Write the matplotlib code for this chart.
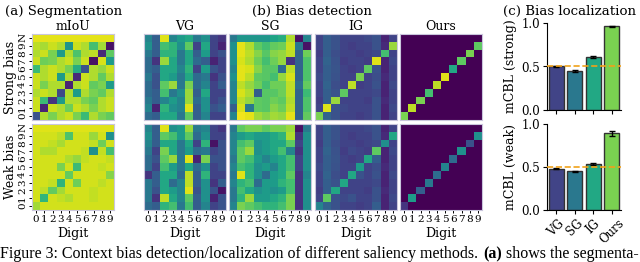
import matplotlib as mpl
mpl.use('Agg')
import matplotlib.pyplot as plt
import numpy as np

plt.rcParams['font.family'] = 'DejaVu Serif'

# labels
digits = ['0', '1', '2', '3', '4', '5', '6', '7', '8', '9']
rows = ['N', '9', '8', '7', '6', '5', '4', '3', '2', '1', '0']  # top -> bottom
methods = ['VG', 'SG', 'IG', 'Ours']

# heatmap values, rows listed top (N) to bottom (0), columns digit 0..9
miou_strong = [
    [0.96, 0.96, 0.96, 0.96, 0.96, 0.96, 0.96, 0.96, 0.96, 0.96],
    [0.90, 0.87, 0.92, 0.88, 0.52, 0.92, 0.88, 0.70, 0.86, 0.05],
    [0.88, 0.92, 0.80, 0.55, 0.88, 0.72, 0.88, 0.90, 0.12, 0.75],
    [0.92, 0.78, 0.80, 0.88, 0.92, 0.80, 0.92, 0.05, 0.94, 0.55],
    [0.68, 0.88, 0.92, 0.88, 0.80, 0.62, 0.25, 0.88, 0.84, 0.92],
    [0.92, 0.88, 0.92, 0.55, 0.88, 0.12, 0.92, 0.88, 0.76, 0.88],
    [0.92, 0.80, 0.88, 0.88, 0.10, 0.88, 0.92, 0.76, 0.80, 0.55],
    [0.88, 0.92, 0.88, 0.22, 0.88, 0.55, 0.88, 0.80, 0.76, 0.88],
    [0.92, 0.68, 0.15, 0.55, 0.88, 0.88, 0.80, 0.76, 0.88, 0.92],
    [0.92, 0.10, 0.92, 0.88, 0.78, 0.92, 0.88, 0.80, 0.88, 0.92],
    [0.25, 0.88, 0.80, 0.88, 0.92, 0.80, 0.68, 0.88, 0.80, 0.76],
]
miou_weak = [
    [0.95, 0.95, 0.95, 0.95, 0.95, 0.95, 0.95, 0.95, 0.95, 0.95],
    [0.93, 0.93, 0.93, 0.90, 0.72, 0.93, 0.93, 0.85, 0.93, 0.50],
    [0.93, 0.93, 0.91, 0.87, 0.93, 0.93, 0.93, 0.91, 0.78, 0.93],
    [0.93, 0.88, 0.88, 0.93, 0.93, 0.93, 0.91, 0.50, 0.91, 0.70],
    [0.93, 0.93, 0.93, 0.93, 0.88, 0.84, 0.91, 0.93, 0.93, 0.91],
    [0.93, 0.93, 0.93, 0.80, 0.93, 0.68, 0.93, 0.93, 0.91, 0.93],
    [0.93, 0.93, 0.93, 0.93, 0.76, 0.93, 0.93, 0.93, 0.93, 0.82],
    [0.93, 0.93, 0.91, 0.65, 0.93, 0.78, 0.93, 0.93, 0.90, 0.93],
    [0.93, 0.90, 0.76, 0.86, 0.93, 0.93, 0.93, 0.91, 0.93, 0.93],
    [0.93, 0.66, 0.93, 0.91, 0.88, 0.93, 0.93, 0.91, 0.93, 0.93],
    [0.86, 0.93, 0.93, 0.93, 0.93, 0.93, 0.93, 0.93, 0.93, 0.93],
]
vg_strong = [
    [0.45, 0.30, 0.95, 0.45, 0.55, 0.60, 0.40, 0.50, 0.20, 0.15],
    [0.50, 0.30, 0.70, 0.65, 0.50, 0.75, 0.20, 0.60, 0.20, 0.10],
    [0.40, 0.30, 0.65, 0.65, 0.40, 0.60, 0.30, 0.55, 0.20, 0.25],
    [0.35, 0.15, 0.85, 0.60, 0.40, 0.60, 0.35, 0.30, 0.10, 0.20],
    [0.35, 0.30, 0.60, 0.60, 0.45, 0.65, 0.20, 0.55, 0.25, 0.20],
    [0.40, 0.25, 0.60, 0.55, 0.40, 0.60, 0.35, 0.40, 0.15, 0.25],
    [0.35, 0.25, 0.75, 0.85, 0.40, 0.80, 0.35, 0.45, 0.20, 0.30],
    [0.35, 0.30, 0.70, 0.40, 0.50, 0.85, 0.30, 0.60, 0.20, 0.20],
    [0.40, 0.30, 0.45, 0.55, 0.45, 0.85, 0.35, 0.50, 0.20, 0.25],
    [0.45, 0.10, 0.65, 0.50, 0.45, 0.95, 0.30, 0.50, 0.25, 0.30],
    [0.35, 0.30, 0.60, 0.60, 0.40, 0.75, 0.30, 0.45, 0.20, 0.20],
]
vg_weak = [
    [0.45, 0.30, 0.95, 0.50, 0.55, 0.85, 0.40, 0.45, 0.20, 0.15],
    [0.50, 0.30, 0.75, 0.70, 0.55, 0.75, 0.35, 0.50, 0.20, 0.20],
    [0.45, 0.30, 0.60, 0.60, 0.40, 0.60, 0.20, 0.65, 0.05, 0.25],
    [0.40, 0.20, 0.80, 0.60, 0.40, 0.55, 0.35, 0.40, 0.20, 0.25],
    [0.35, 0.25, 0.75, 0.85, 0.40, 0.95, 0.10, 0.80, 0.25, 0.25],
    [0.35, 0.20, 0.70, 0.55, 0.40, 0.60, 0.35, 0.50, 0.20, 0.25],
    [0.15, 0.30, 0.60, 0.60, 0.35, 0.90, 0.30, 0.65, 0.20, 0.20],
    [0.40, 0.30, 0.60, 0.35, 0.45, 0.90, 0.30, 0.50, 0.15, 0.30],
    [0.40, 0.25, 0.60, 0.55, 0.45, 0.95, 0.25, 0.50, 0.25, 0.05],
    [0.40, 0.15, 0.90, 0.60, 0.45, 0.75, 0.30, 0.50, 0.10, 0.25],
    [0.35, 0.30, 0.65, 0.70, 0.40, 0.70, 0.30, 0.45, 0.20, 0.25],
]
sg_strong = [
    [0.40, 0.52, 0.52, 0.52, 0.52, 0.58, 0.62, 0.88, 0.05, 0.45],
    [0.50, 0.96, 0.88, 0.75, 0.70, 0.76, 0.78, 0.92, 0.40, 0.05],
    [0.50, 0.96, 0.90, 0.82, 0.74, 0.82, 0.84, 0.90, 0.32, 0.78],
    [0.50, 0.94, 0.88, 0.78, 0.70, 0.78, 0.84, 0.15, 0.32, 0.72],
    [0.45, 0.96, 0.94, 0.82, 0.74, 0.74, 0.35, 0.90, 0.32, 0.72],
    [0.50, 0.96, 0.90, 0.75, 0.74, 0.70, 0.84, 0.94, 0.32, 0.72],
    [0.45, 0.90, 0.84, 0.78, 0.70, 0.78, 0.78, 0.90, 0.36, 0.76],
    [0.45, 0.94, 0.88, 0.30, 0.74, 0.74, 0.78, 0.90, 0.32, 0.68],
    [0.45, 0.90, 0.84, 0.75, 0.74, 0.78, 0.75, 0.88, 0.32, 0.72],
    [0.30, 0.94, 0.40, 0.75, 0.74, 0.82, 0.78, 0.90, 0.32, 0.72],
    [0.45, 0.98, 0.96, 0.86, 0.82, 0.86, 0.84, 0.96, 0.32, 0.76],
]
sg_weak = [
    [0.40, 0.75, 0.80, 0.80, 0.75, 0.80, 0.80, 0.85, 0.05, 0.40],
    [0.45, 0.55, 0.60, 0.55, 0.55, 0.60, 0.65, 0.88, 0.15, 0.50],
    [0.45, 0.70, 0.75, 0.50, 0.55, 0.60, 0.60, 0.75, 0.20, 0.50],
    [0.45, 0.75, 0.85, 0.50, 0.55, 0.60, 0.70, 0.45, 0.15, 0.50],
    [0.40, 0.75, 0.70, 0.55, 0.45, 0.55, 0.60, 0.70, 0.20, 0.50],
    [0.45, 0.70, 0.65, 0.50, 0.55, 0.45, 0.60, 0.70, 0.20, 0.50],
    [0.40, 0.95, 0.65, 0.50, 0.35, 0.55, 0.60, 0.75, 0.15, 0.45],
    [0.45, 0.65, 0.70, 0.35, 0.55, 0.55, 0.65, 0.70, 0.15, 0.50],
    [0.40, 0.70, 0.60, 0.50, 0.55, 0.50, 0.55, 0.70, 0.15, 0.50],
    [0.40, 0.65, 0.85, 0.55, 0.55, 0.60, 0.65, 0.80, 0.15, 0.50],
    [0.45, 0.80, 0.75, 0.70, 0.65, 0.65, 0.70, 0.80, 0.15, 0.50],
]
ig_strong = [
    [0.20, 0.30, 0.25, 0.20, 0.20, 0.20, 0.22, 0.25, 0.10, 0.20],
    [0.20, 0.30, 0.25, 0.20, 0.18, 0.20, 0.20, 0.25, 0.12, 0.85],
    [0.18, 0.30, 0.24, 0.20, 0.20, 0.18, 0.20, 0.22, 0.70, 0.20],
    [0.20, 0.32, 0.25, 0.18, 0.20, 0.20, 0.18, 0.95, 0.10, 0.22],
    [0.20, 0.30, 0.26, 0.20, 0.18, 0.20, 0.75, 0.25, 0.10, 0.20],
    [0.22, 0.30, 0.25, 0.20, 0.20, 0.80, 0.20, 0.24, 0.12, 0.20],
    [0.20, 0.32, 0.24, 0.20, 0.90, 0.18, 0.20, 0.25, 0.10, 0.22],
    [0.20, 0.30, 0.25, 0.75, 0.20, 0.20, 0.20, 0.22, 0.10, 0.20],
    [0.18, 0.30, 0.85, 0.20, 0.20, 0.20, 0.18, 0.25, 0.12, 0.20],
    [0.20, 0.95, 0.25, 0.22, 0.20, 0.20, 0.20, 0.25, 0.10, 0.22],
    [0.80, 0.32, 0.25, 0.20, 0.20, 0.18, 0.20, 0.25, 0.10, 0.20],
]
ig_weak = [
    [0.20, 0.30, 0.25, 0.20, 0.20, 0.20, 0.22, 0.25, 0.10, 0.20],
    [0.20, 0.30, 0.25, 0.20, 0.18, 0.20, 0.20, 0.25, 0.12, 0.60],
    [0.18, 0.30, 0.24, 0.20, 0.20, 0.18, 0.20, 0.22, 0.50, 0.20],
    [0.20, 0.32, 0.25, 0.18, 0.22, 0.20, 0.18, 0.75, 0.10, 0.22],
    [0.20, 0.30, 0.26, 0.20, 0.18, 0.20, 0.60, 0.30, 0.10, 0.20],
    [0.22, 0.30, 0.25, 0.20, 0.20, 0.55, 0.20, 0.24, 0.12, 0.20],
    [0.20, 0.32, 0.24, 0.20, 0.60, 0.25, 0.20, 0.25, 0.10, 0.22],
    [0.20, 0.30, 0.25, 0.60, 0.20, 0.20, 0.20, 0.22, 0.10, 0.20],
    [0.18, 0.30, 0.60, 0.20, 0.20, 0.20, 0.18, 0.25, 0.12, 0.20],
    [0.20, 0.75, 0.25, 0.22, 0.25, 0.20, 0.20, 0.25, 0.10, 0.22],
    [0.45, 0.32, 0.25, 0.20, 0.20, 0.18, 0.20, 0.30, 0.10, 0.20],
]
ours_strong = [
    [0.00, 0.00, 0.00, 0.00, 0.00, 0.00, 0.00, 0.00, 0.00, 0.00],
    [0.00, 0.00, 0.00, 0.00, 0.00, 0.00, 0.00, 0.00, 0.00, 0.75],
    [0.00, 0.00, 0.00, 0.00, 0.00, 0.00, 0.00, 0.00, 0.80, 0.00],
    [0.00, 0.00, 0.00, 0.00, 0.00, 0.00, 0.00, 0.75, 0.00, 0.00],
    [0.00, 0.00, 0.00, 0.00, 0.00, 0.00, 0.60, 0.00, 0.00, 0.00],
    [0.00, 0.00, 0.00, 0.00, 0.00, 0.95, 0.00, 0.00, 0.00, 0.00],
    [0.00, 0.00, 0.00, 0.00, 0.90, 0.00, 0.00, 0.00, 0.00, 0.00],
    [0.00, 0.00, 0.00, 0.70, 0.00, 0.00, 0.00, 0.00, 0.00, 0.00],
    [0.00, 0.00, 0.80, 0.00, 0.00, 0.00, 0.00, 0.00, 0.00, 0.00],
    [0.00, 0.90, 0.00, 0.00, 0.00, 0.00, 0.00, 0.00, 0.00, 0.00],
    [0.80, 0.00, 0.00, 0.00, 0.00, 0.00, 0.00, 0.00, 0.00, 0.00],
]
ours_weak = [
    [0.00, 0.00, 0.00, 0.00, 0.00, 0.00, 0.00, 0.00, 0.00, 0.00],
    [0.00, 0.00, 0.00, 0.00, 0.00, 0.00, 0.00, 0.00, 0.00, 0.50],
    [0.00, 0.00, 0.00, 0.00, 0.00, 0.00, 0.00, 0.00, 0.25, 0.00],
    [0.00, 0.00, 0.00, 0.00, 0.00, 0.00, 0.00, 0.50, 0.00, 0.00],
    [0.00, 0.00, 0.00, 0.00, 0.00, 0.00, 0.35, 0.00, 0.00, 0.00],
    [0.00, 0.00, 0.00, 0.00, 0.00, 0.45, 0.00, 0.00, 0.00, 0.00],
    [0.00, 0.00, 0.00, 0.00, 0.35, 0.00, 0.00, 0.00, 0.00, 0.00],
    [0.00, 0.00, 0.00, 0.40, 0.00, 0.00, 0.00, 0.00, 0.00, 0.00],
    [0.00, 0.00, 0.30, 0.00, 0.00, 0.00, 0.00, 0.00, 0.00, 0.00],
    [0.00, 0.55, 0.00, 0.00, 0.00, 0.00, 0.00, 0.00, 0.00, 0.00],
    [0.15, 0.00, 0.00, 0.00, 0.00, 0.00, 0.00, 0.00, 0.00, 0.00],
]

# bias localization (mCBL)
cbl_strong = [0.50, 0.45, 0.61, 0.96]
cbl_strong_err = [0.01, 0.01, 0.01, 0.005]
cbl_weak = [0.48, 0.45, 0.54, 0.89]
cbl_weak_err = [0.008, 0.008, 0.012, 0.025]
bar_colors = ['#414487', '#2a788e', '#22a884', '#7ad151']

W, H = 640, 262
fig = plt.figure(figsize=(W / 100, H / 100), dpi=100)


def px_axes(x, y, w, h):
    return fig.add_axes([x / W, 1 - (y + h) / H, w / W, h / H])


def heat(ax, m, left=False, bottom=False):
    ax.imshow(np.array(m), cmap='viridis', vmin=0, vmax=1,
              aspect='auto', interpolation='nearest')
    ax.set_xticks(range(len(digits)))
    ax.set_yticks(range(len(rows)))
    ax.tick_params(length=2.5, width=0.7, pad=1, labelsize=7.5)
    if bottom:
        ax.set_xticklabels(digits)
        ax.set_xlabel('Digit', fontsize=9, labelpad=2)
    else:
        ax.tick_params(axis='x', bottom=False, labelbottom=False)
    if left:
        ax.set_yticklabels(rows, rotation=90, va='center')
    else:
        ax.tick_params(axis='y', left=False, labelleft=False)
    for s in ax.spines.values():
        s.set_color('#c9c6dc')
        s.set_linewidth(0.8)


xs = [32, 144, 229, 315, 400]
strong = [miou_strong, vg_strong, sg_strong, ig_strong, ours_strong]
weak = [miou_weak, vg_weak, sg_weak, ig_weak, ours_weak]
subtitles = ['mIoU'] + methods

for i, x in enumerate(xs):
    a1 = px_axes(x, 34, 82, 86)
    heat(a1, strong[i], left=(i == 0))
    a1.set_title(subtitles[i], fontsize=9, pad=3)
    a2 = px_axes(x, 124, 82, 86)
    heat(a2, weak[i], left=(i == 0), bottom=True)
    if i == 0:
        a1.set_ylabel('Strong bias', fontsize=9, labelpad=1)
        a2.set_ylabel('Weak bias', fontsize=9, labelpad=1)


def bars(ax, vals, errs, label, show_x):
    xpos = np.arange(len(methods))
    ax.bar(xpos, vals, width=0.82, color=bar_colors, edgecolor='#333333',
           linewidth=1.0, yerr=errs, capsize=2.5,
           error_kw=dict(ecolor='black', elinewidth=1.0, capthick=1.0))
    ax.axhline(0.5, color='#f0a21a', ls='--', lw=1.2, zorder=5)
    ax.set_ylim(0, 1.0)
    ax.set_xlim(-0.5, 3.5)
    ax.set_yticks([0.0, 0.5, 1.0])
    ax.set_yticklabels(['0.0', '0.5', '1.0'])
    ax.set_xticks(xpos)
    ax.spines['top'].set_visible(False)
    ax.spines['right'].set_visible(False)
    ax.tick_params(length=3, width=0.8, pad=2, labelsize=8.5)
    ax.set_ylabel(label, fontsize=9, labelpad=3)
    if show_x:
        ax.set_xticklabels(methods, rotation=45, ha='center')
    else:
        ax.set_xticklabels([])


b1 = px_axes(547, 23, 74, 87)
bars(b1, cbl_strong, cbl_strong_err, 'mCBL (strong)', False)
b2 = px_axes(547, 124, 74, 86)
bars(b2, cbl_weak, cbl_weak_err, 'mCBL (weak)', True)

fig.text(64 / W, 1 - 11 / H, '(a) Segmentation', ha='center', va='center', fontsize=9.6)
fig.text(312 / W, 1 - 11 / H, '(b) Bias detection', ha='center', va='center', fontsize=9.6)
fig.text(570 / W, 1 - 11 / H, '(c) Bias localization', ha='center', va='center', fontsize=9.6)

# caption (cut off at the bottom like the source)
cap_y = 1 - 258 / H
t1 = fig.text(0.0, cap_y, 'Figure 3: Context bias detection/localization of different saliency methods.',
              ha='left', va='baseline', fontsize=11.5, family='Liberation Serif')
fig.canvas.draw()
r = fig.canvas.get_renderer()
e = t1.get_window_extent(r)
t2 = fig.text(e.x1 / W + 5 / W, cap_y, '(a)', ha='left', va='baseline', fontsize=11.5,
              family='Liberation Serif', weight='bold')
e2 = t2.get_window_extent(r)
fig.text(e2.x1 / W + 4 / W, cap_y, 'shows the segmenta-', ha='left', va='baseline',
         fontsize=11.5, family='Liberation Serif')

fig.savefig('out.png', dpi=100)
